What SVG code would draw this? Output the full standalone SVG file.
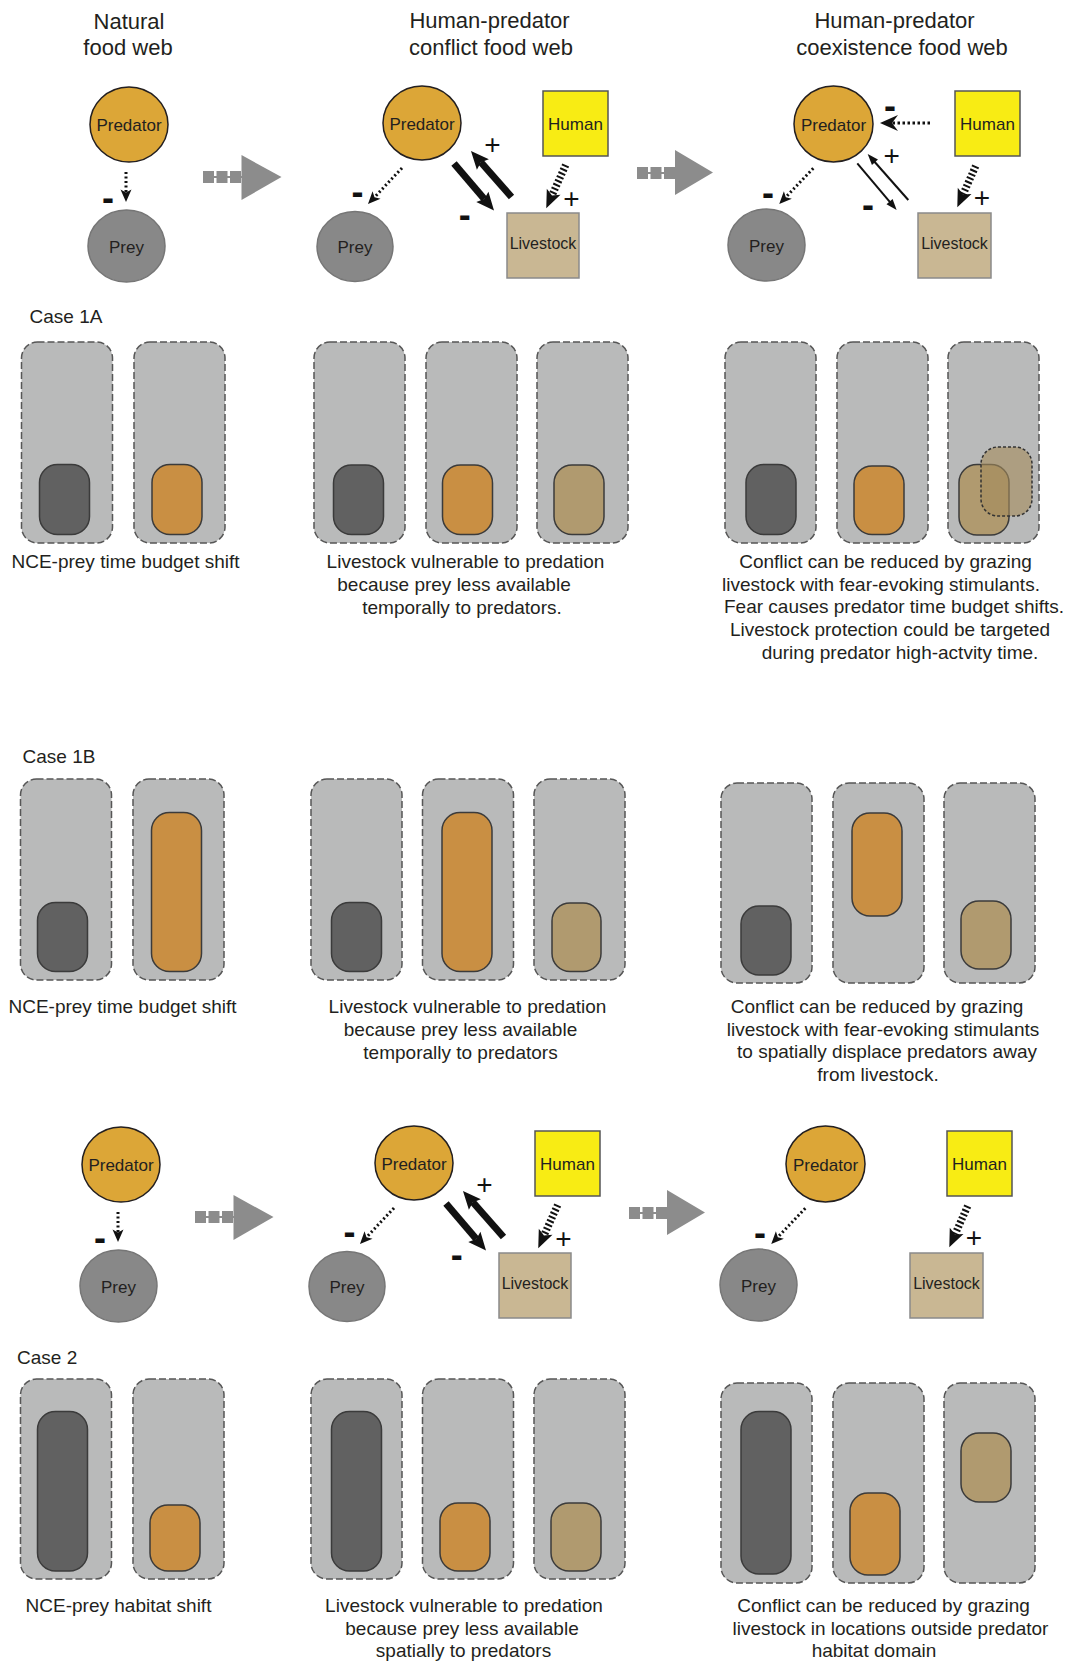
<svg xmlns="http://www.w3.org/2000/svg" width="1071" height="1663" viewBox="0 0 1071 1663">
  <style>
    text { font-family: "Liberation Sans", Arial, sans-serif; fill: #231f20; }
    .hdr { font-size: 22px; text-anchor: middle; }
    .lbl { font-size: 17px; text-anchor: middle; }
    .lbl-s { font-size: 16px; text-anchor: middle; }
    .cap { font-size: 19px; text-anchor: middle; }
    .case { font-size: 19px; }
    .plus { font-size: 28px; text-anchor: middle; fill: #111; }
    .minus { font-size: 36px; font-weight: bold; text-anchor: middle; fill: #111; }
    .pred { fill: #dca637; stroke: #231f20; stroke-width: 1.5; }
    .prey { fill: #888888; stroke: #767676; stroke-width: 1.5; }
    .human { fill: #f8ec14; stroke: #555; stroke-width: 1.5; }
    .live { fill: #c9b793; stroke: #8a8a8a; stroke-width: 1.5; }
    .box { fill: #b9baba; stroke: #565656; stroke-width: 1.5; stroke-dasharray: 7 3; }
    .dark { fill: #616161; stroke: #3b3b3b; stroke-width: 1.5; }
    .org { fill: #c98f43; stroke: #3b3b3b; stroke-width: 1.5; }
    .tan { fill: #b09a6f; stroke: #3b3b3b; stroke-width: 1.5; }
    .tan-shift { fill: #a58c5c; fill-opacity: 0.6; stroke: #333; stroke-width: 1.5; stroke-dasharray: 3 2; }
    .dots { fill: none; stroke: #111; stroke-width: 3; stroke-dasharray: 2 2.5; }
    .dots-lg { fill: none; stroke: #111; stroke-width: 3.2; stroke-dasharray: 2.5 2.5; }
    .bold { fill: none; stroke: #111; stroke-width: 7; }
    .thin { fill: none; stroke: #111; stroke-width: 2; }
    .ladder { fill: none; stroke: #111; stroke-width: 7.5; stroke-dasharray: 2 2.2; }
    .step-tail { fill: none; stroke: #8c8c8c; stroke-width: 12; stroke-dasharray: 11 2.5; }
    .step-line { fill: none; stroke: #8c8c8c; stroke-width: 2; }
    .step-head { fill: #8c8c8c; }
  </style>
  <defs>
    <!-- arrowheads: the reference point is where the shaft ends -->
    <marker id="m-dot" markerUnits="userSpaceOnUse" orient="auto" overflow="visible" markerWidth="1" markerHeight="1">
      <path d="M0,0 L-3,-5.5 L9.5,0 L-3,5.5 Z" fill="#111"/>
    </marker>
    <marker id="m-dot-lg" markerUnits="userSpaceOnUse" orient="auto" overflow="visible" markerWidth="1" markerHeight="1">
      <path d="M0,0 L-6,-8 L12,0 L-6,8 Z" fill="#111"/>
    </marker>
    <marker id="m-bold" markerUnits="userSpaceOnUse" orient="auto" overflow="visible" markerWidth="1" markerHeight="1">
      <path d="M0,0 L-3,-8 L15,0 L-3,8 Z" fill="#111"/>
    </marker>
    <marker id="m-thin" markerUnits="userSpaceOnUse" orient="auto" overflow="visible" markerWidth="1" markerHeight="1">
      <path d="M-1,-4 L10,0 L-1,4 Z" fill="#111"/>
    </marker>
    <marker id="m-ladder" markerUnits="userSpaceOnUse" orient="auto" overflow="visible" markerWidth="1" markerHeight="1">
      <path d="M0,0 L-4,-7.5 L14,0 L-4,7.5 Z" fill="#111"/>
    </marker>
  </defs>

  <!-- column headings -->
  <g id="headings">
    <text class="hdr" x="129" y="29">Natural</text>
    <text class="hdr" x="128" y="55">food web</text>
    <text class="hdr" x="489.5" y="28">Human-predator</text>
    <text class="hdr" x="491" y="55">conflict food web</text>
    <text class="hdr" x="894.5" y="28">Human-predator</text>
    <text class="hdr" x="902" y="55">coexistence food web</text>
  </g>

  <!-- ===== food webs (top) ===== -->
  <g id="webs-top">
    <g id="natural-predator"><ellipse class="pred" cx="129" cy="124.5" rx="39" ry="37.5"/><text class="lbl" x="129" y="131">Predator</text></g>
    <g id="natural-prey"><ellipse class="prey" cx="126.5" cy="246" rx="38.5" ry="36"/><text class="lbl" x="126.5" y="252.5">Prey</text></g>

    <g id="conflict-predator"><ellipse class="pred" cx="422" cy="123" rx="39" ry="37"/><text class="lbl" x="422" y="129.5">Predator</text></g>
    <g id="conflict-prey"><ellipse class="prey" cx="355" cy="246.5" rx="38" ry="35"/><text class="lbl" x="355" y="253">Prey</text></g>
    <g id="conflict-human"><rect class="human" x="543" y="91" width="65" height="65"/><text class="lbl" x="575.5" y="129.5">Human</text></g>
    <g id="conflict-livestock"><rect class="live" x="507" y="213" width="72" height="65"/><text class="lbl-s" x="543" y="248.5">Livestock</text></g>

    <g id="coexist-predator"><ellipse class="pred" cx="833.5" cy="124" rx="39.5" ry="38"/><text class="lbl" x="833.5" y="130.5">Predator</text></g>
    <g id="coexist-prey"><ellipse class="prey" cx="766.5" cy="245" rx="38.5" ry="36"/><text class="lbl" x="766.5" y="251.5">Prey</text></g>
    <g id="coexist-human"><rect class="human" x="955" y="91" width="65" height="65"/><text class="lbl" x="987.5" y="129.5">Human</text></g>
    <g id="coexist-livestock"><rect class="live" x="918" y="213" width="73" height="65"/><text class="lbl-s" x="954.5" y="248.5">Livestock</text></g>

    <g id="step-1"><line class="step-line" x1="203" y1="177" x2="243" y2="177"/><line class="step-tail" x1="203" y1="177" x2="242" y2="177"/><polygon class="step-head" points="241.5,155 281.5,177 241.5,200"/></g>
    <g id="step-2"><line class="step-line" x1="637" y1="173" x2="676" y2="173"/><line class="step-tail" x1="637" y1="173" x2="675" y2="173"/><polygon class="step-head" points="675,150 713,172.5 675,195"/></g>

    <g id="links-top">
      <line class="dots" x1="126" y1="172" x2="126" y2="192.5" marker-end="url(#m-dot)"/>
      <line class="dots" x1="402" y1="168" x2="374.5" y2="197.2" marker-end="url(#m-dot)"/>
      <line class="bold" x1="454" y1="163.5" x2="484.3" y2="199.1" marker-end="url(#m-bold)"/>
      <line class="bold" x1="511.5" y1="197" x2="480.9" y2="162.3" marker-end="url(#m-bold)"/>
      <line class="ladder" x1="565.7" y1="165" x2="552" y2="195.4" marker-end="url(#m-ladder)"/>
      <line class="dots-lg" x1="930" y1="123" x2="892" y2="123" marker-end="url(#m-dot-lg)"/>
      <line class="thin" x1="857.3" y1="163.3" x2="890.2" y2="202.4" marker-end="url(#m-thin)"/>
      <line class="thin" x1="908.3" y1="200" x2="874.3" y2="161.5" marker-end="url(#m-thin)"/>
      <line class="dots" x1="813.3" y1="168.3" x2="785.8" y2="197.2" marker-end="url(#m-dot)"/>
      <line class="ladder" x1="975.7" y1="166" x2="963" y2="194.5" marker-end="url(#m-ladder)"/>
      <text class="minus" x="108" y="210">-</text>
      <text class="minus" x="357.5" y="204">-</text>
      <text class="plus" x="492.5" y="153.5">+</text>
      <text class="minus" x="464.7" y="227">-</text>
      <text class="plus" x="571.5" y="208">+</text>
      <text class="minus" x="890" y="117.5">-</text>
      <text class="plus" x="891.7" y="165">+</text>
      <text class="minus" x="868" y="216.5">-</text>
      <text class="minus" x="768" y="204.5">-</text>
      <text class="plus" x="982" y="207">+</text>
    </g>
  </g>

  <!-- ===== Case 1A ===== -->
  <g id="case-1a">
    <text class="case" x="29.5" y="322.5">Case 1A</text>
    <g id="c1a-natural-prey"><rect class="box" x="21.5" y="342" width="91" height="201" rx="16"/><rect class="dark" x="39.5" y="464.5" width="50" height="70" rx="18"/></g>
    <g id="c1a-natural-pred"><rect class="box" x="134" y="342" width="91" height="201" rx="16"/><rect class="org" x="152" y="464.5" width="50" height="70" rx="18"/></g>
    <g id="c1a-conflict-prey"><rect class="box" x="314" y="342" width="91" height="201" rx="16"/><rect class="dark" x="333.5" y="465" width="50" height="69.5" rx="18"/></g>
    <g id="c1a-conflict-pred"><rect class="box" x="426" y="342" width="91" height="201" rx="16"/><rect class="org" x="442.5" y="465" width="50" height="69.5" rx="18"/></g>
    <g id="c1a-conflict-live"><rect class="box" x="537" y="342" width="91" height="201" rx="16"/><rect class="tan" x="554" y="465" width="50" height="69.5" rx="18"/></g>
    <g id="c1a-coexist-prey"><rect class="box" x="725" y="342" width="91" height="201" rx="16"/><rect class="dark" x="746" y="464.5" width="50" height="70" rx="18"/></g>
    <g id="c1a-coexist-pred"><rect class="box" x="837" y="342" width="91" height="201" rx="16"/><rect class="org" x="854" y="466" width="50" height="68.5" rx="18"/></g>
    <g id="c1a-coexist-live"><rect class="box" x="948" y="342" width="91" height="201" rx="16"/><rect class="tan" x="959" y="464.5" width="50" height="70.5" rx="18"/><rect class="tan-shift" x="981" y="447" width="51" height="69" rx="17"/></g>
    <text class="cap" x="125.5" y="568">NCE-prey time budget shift</text>
    <text class="cap" x="465.5" y="568">Livestock vulnerable to predation</text>
    <text class="cap" x="454" y="591">because prey less available</text>
    <text class="cap" x="462" y="613.5">temporally to predators.</text>
    <text class="cap" x="885.5" y="568">Conflict can be reduced by grazing</text>
    <text class="cap" x="881" y="590.5">livestock with fear-evoking stimulants.</text>
    <text class="cap" x="894" y="613">Fear causes predator time budget shifts.</text>
    <text class="cap" x="890" y="636">Livestock protection could be targeted</text>
    <text class="cap" x="900" y="659">during predator high-actvity time.</text>
  </g>

  <!-- ===== Case 1B ===== -->
  <g id="case-1b">
    <text class="case" x="22.5" y="762.5">Case 1B</text>
    <g id="c1b-natural-prey"><rect class="box" x="20.5" y="779" width="91" height="201" rx="16"/><rect class="dark" x="37.5" y="902.5" width="50" height="69" rx="18"/></g>
    <g id="c1b-natural-pred"><rect class="box" x="133" y="779" width="91" height="201" rx="16"/><rect class="org" x="151.5" y="812.5" width="50" height="159" rx="18"/></g>
    <g id="c1b-conflict-prey"><rect class="box" x="311" y="779" width="91" height="201" rx="16"/><rect class="dark" x="331.5" y="902.5" width="50" height="69" rx="18"/></g>
    <g id="c1b-conflict-pred"><rect class="box" x="422.5" y="779" width="91" height="201" rx="16"/><rect class="org" x="442" y="812.5" width="50" height="159" rx="18"/></g>
    <g id="c1b-conflict-live"><rect class="box" x="534" y="779" width="91" height="201" rx="16"/><rect class="tan" x="552" y="903" width="49" height="68.5" rx="18"/></g>
    <g id="c1b-coexist-prey"><rect class="box" x="721" y="783" width="91" height="200" rx="16"/><rect class="dark" x="741" y="906" width="50" height="69" rx="18"/></g>
    <g id="c1b-coexist-pred"><rect class="box" x="833" y="783" width="91" height="200" rx="16"/><rect class="org" x="852" y="813" width="50" height="103" rx="18"/></g>
    <g id="c1b-coexist-live"><rect class="box" x="944" y="783" width="91" height="200" rx="16"/><rect class="tan" x="961" y="901" width="50" height="68" rx="18"/></g>
    <text class="cap" x="122.5" y="1013">NCE-prey time budget shift</text>
    <text class="cap" x="467.5" y="1013">Livestock vulnerable to predation</text>
    <text class="cap" x="460.5" y="1036">because prey less available</text>
    <text class="cap" x="460.5" y="1058.5">temporally to predators</text>
    <text class="cap" x="877" y="1013">Conflict can be reduced by grazing</text>
    <text class="cap" x="883" y="1035.5">livestock with fear-evoking stimulants</text>
    <text class="cap" x="887" y="1058">to spatially displace predators away</text>
    <text class="cap" x="878" y="1081">from livestock.</text>
  </g>

  <!-- ===== food webs (Case 2) ===== -->
  <g id="webs-case2" transform="translate(-8,1040)">
    <g id="c2-natural-predator"><ellipse class="pred" cx="129" cy="124.5" rx="39" ry="37.5"/><text class="lbl" x="129" y="131">Predator</text></g>
    <g id="c2-natural-prey"><ellipse class="prey" cx="126.5" cy="246" rx="38.5" ry="36"/><text class="lbl" x="126.5" y="252.5">Prey</text></g>

    <g id="c2-conflict-predator"><ellipse class="pred" cx="422" cy="123" rx="39" ry="37"/><text class="lbl" x="422" y="129.5">Predator</text></g>
    <g id="c2-conflict-prey"><ellipse class="prey" cx="355" cy="246.5" rx="38" ry="35"/><text class="lbl" x="355" y="253">Prey</text></g>
    <g id="c2-conflict-human"><rect class="human" x="543" y="91" width="65" height="65"/><text class="lbl" x="575.5" y="129.5">Human</text></g>
    <g id="c2-conflict-livestock"><rect class="live" x="507" y="213" width="72" height="65"/><text class="lbl-s" x="543" y="248.5">Livestock</text></g>

    <g id="c2-coexist-predator"><ellipse class="pred" cx="833.5" cy="124" rx="39.5" ry="38"/><text class="lbl" x="833.5" y="130.5">Predator</text></g>
    <g id="c2-coexist-prey"><ellipse class="prey" cx="766.5" cy="245" rx="38.5" ry="36"/><text class="lbl" x="766.5" y="251.5">Prey</text></g>
    <g id="c2-coexist-human"><rect class="human" x="955" y="91" width="65" height="65"/><text class="lbl" x="987.5" y="129.5">Human</text></g>
    <g id="c2-coexist-livestock"><rect class="live" x="918" y="213" width="73" height="65"/><text class="lbl-s" x="954.5" y="248.5">Livestock</text></g>

    <g id="c2-step-1"><line class="step-line" x1="203" y1="177" x2="243" y2="177"/><line class="step-tail" x1="203" y1="177" x2="242" y2="177"/><polygon class="step-head" points="241.5,155 281.5,177 241.5,200"/></g>
    <g id="c2-step-2"><line class="step-line" x1="637" y1="173" x2="676" y2="173"/><line class="step-tail" x1="637" y1="173" x2="675" y2="173"/><polygon class="step-head" points="675,150 713,172.5 675,195"/></g>

    <g id="c2-links">
      <line class="dots" x1="126" y1="172" x2="126" y2="192.5" marker-end="url(#m-dot)"/>
      <line class="dots" x1="402" y1="168" x2="374.5" y2="197.2" marker-end="url(#m-dot)"/>
      <line class="bold" x1="454" y1="163.5" x2="484.3" y2="199.1" marker-end="url(#m-bold)"/>
      <line class="bold" x1="511.5" y1="197" x2="480.9" y2="162.3" marker-end="url(#m-bold)"/>
      <line class="ladder" x1="565.7" y1="165" x2="552" y2="195.4" marker-end="url(#m-ladder)"/>
      <line class="dots" x1="813.3" y1="168.3" x2="785.8" y2="197.2" marker-end="url(#m-dot)"/>
      <line class="ladder" x1="975.7" y1="166" x2="963" y2="194.5" marker-end="url(#m-ladder)"/>
      <text class="minus" x="108" y="210">-</text>
      <text class="minus" x="357.5" y="204">-</text>
      <text class="plus" x="492.5" y="153.5">+</text>
      <text class="minus" x="464.7" y="227">-</text>
      <text class="plus" x="571.5" y="208">+</text>
      <text class="minus" x="768" y="204.5">-</text>
      <text class="plus" x="982" y="207">+</text>
    </g>
  </g>

  <!-- ===== Case 2 ===== -->
  <g id="case-2">
    <text class="case" x="17" y="1364">Case 2</text>
    <g id="c2-natural-prey-range"><rect class="box" x="20.5" y="1379" width="91" height="200" rx="16"/><rect class="dark" x="37.5" y="1411.5" width="50" height="159.5" rx="18"/></g>
    <g id="c2-natural-pred-range"><rect class="box" x="133" y="1379" width="91" height="200" rx="16"/><rect class="org" x="150" y="1505" width="50" height="66" rx="18"/></g>
    <g id="c2-conflict-prey-range"><rect class="box" x="311" y="1379" width="91" height="200" rx="16"/><rect class="dark" x="331.5" y="1411.5" width="50" height="159.5" rx="18"/></g>
    <g id="c2-conflict-pred-range"><rect class="box" x="422.5" y="1379" width="91" height="200" rx="16"/><rect class="org" x="440" y="1503" width="50" height="68" rx="18"/></g>
    <g id="c2-conflict-live-range"><rect class="box" x="534" y="1379" width="91" height="200" rx="16"/><rect class="tan" x="551" y="1503" width="50" height="68" rx="18"/></g>
    <g id="c2-coexist-prey-range"><rect class="box" x="721" y="1383" width="91" height="200" rx="16"/><rect class="dark" x="741" y="1411.5" width="50" height="162.5" rx="18"/></g>
    <g id="c2-coexist-pred-range"><rect class="box" x="833" y="1383" width="91" height="200" rx="16"/><rect class="org" x="850" y="1493" width="50" height="82" rx="18"/></g>
    <g id="c2-coexist-live-range"><rect class="box" x="944" y="1383" width="91" height="200" rx="16"/><rect class="tan" x="961" y="1433" width="50" height="69" rx="18"/></g>
    <text class="cap" x="118.5" y="1611.5">NCE-prey habitat shift</text>
    <text class="cap" x="464" y="1611.5">Livestock vulnerable to predation</text>
    <text class="cap" x="462" y="1635">because prey less available</text>
    <text class="cap" x="463.5" y="1656.5">spatially to predators</text>
    <text class="cap" x="883.5" y="1611.5">Conflict can be reduced by grazing</text>
    <text class="cap" x="890.5" y="1635">livestock in locations outside predator</text>
    <text class="cap" x="874" y="1656.5">habitat domain</text>
  </g>
</svg>
